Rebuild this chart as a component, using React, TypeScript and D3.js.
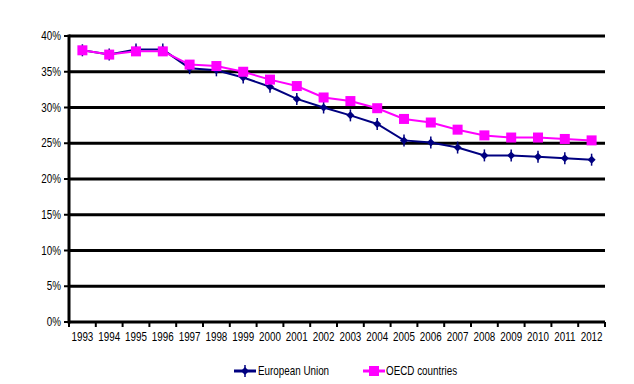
import React from "react";
import * as d3 from "d3";

const years = ["1993","1994","1995","1996","1997","1998","1999","2000","2001","2002","2003","2004","2005","2006","2007","2008","2009","2010","2011","2012"];
const euValues = [38.0, 37.4, 38.1, 38.1, 35.5, 35.2, 34.2, 32.9, 31.2, 30.0, 28.9, 27.7, 25.4, 25.1, 24.4, 23.3, 23.3, 23.1, 22.9, 22.7];
const oecdValues = [38.0, 37.4, 37.85, 37.85, 36.0, 35.8, 35.0, 33.9, 33.0, 31.4, 30.9, 29.9, 28.4, 27.9, 26.9, 26.1, 25.8, 25.8, 25.6, 25.4];
const yTicks = [0, 5, 10, 15, 20, 25, 30, 35, 40];

const FONT = "'Liberation Sans', Arial, sans-serif";

// narrow-looking text: regular sans squeezed horizontally
function NarrowText({ x, y, anchor = "start", children }: { x: number; y: number; anchor?: string; children: React.ReactNode }) {
  return (
    <text
      transform={`translate(${x},${y}) scale(0.82,1)`}
      textAnchor={anchor}
      fontFamily={FONT}
      fontSize={12}
      fill="#000"
    >
      {children}
    </text>
  );
}

export default function App() {
  const W = 634, H = 384;
  const left = 69, right = 605, top = 36, bottom = 322;

  const x = d3.scaleBand<string>().domain(years).range([left, right]);
  const y = d3.scaleLinear().domain([0, 40]).range([bottom, top]);
  const cx = (d: string) => (x(d) as number) + x.bandwidth() / 2;

  const line = d3.line<number>().x((_, i) => cx(years[i])).y(v => y(v));

  const navy = "#000080";
  const magenta = "#ff00ff";

  const diamond = (px: number, py: number, key: string) => (
    <g key={key}>
      <path d={`M${px},${py - 4}L${px + 4},${py}L${px},${py + 4}L${px - 4},${py}Z`} fill={navy} />
      <line x1={px} x2={px} y1={py - 6} y2={py + 6} stroke={navy} strokeWidth={1.5} />
    </g>
  );

  return (
    <svg width={W} height={H} style={{ position: "absolute", left: 0, top: 0, background: "#fff" }}>
      {/* gridlines */}
      {yTicks.map(t => (
        <g key={t}>
          <line x1={left} x2={right} y1={y(t)} y2={y(t)} stroke="#000" strokeWidth={3} />
          <NarrowText x={61} y={y(t) + 4} anchor="end">{t}%</NarrowText>
        </g>
      ))}
      {/* left axis */}
      <line x1={left} x2={left} y1={top - 1.5} y2={bottom + 1.5} stroke="#000" strokeWidth={3} />
      {yTicks.map(t => (
        <line key={"yt" + t} x1={left - 5} x2={left} y1={y(t)} y2={y(t)} stroke="#000" strokeWidth={2} />
      ))}
      {/* x ticks at category boundaries */}
      {years.map(yr => (
        <line key={"xt" + yr} x1={x(yr) as number} x2={x(yr) as number} y1={bottom} y2={bottom + 5} stroke="#000" strokeWidth={2} />
      ))}
      <line x1={right} x2={right} y1={bottom} y2={bottom + 5} stroke="#000" strokeWidth={2} />
      {years.map(yr => (
        <NarrowText key={"xl" + yr} x={cx(yr)} y={341} anchor="middle">{yr}</NarrowText>
      ))}

      {/* EU series */}
      <path d={line(euValues) as string} fill="none" stroke={navy} strokeWidth={2} />
      {euValues.map((v, i) => diamond(cx(years[i]), y(v), "eu" + i))}

      {/* OECD series */}
      <path d={line(oecdValues) as string} fill="none" stroke={magenta} strokeWidth={2} />
      {oecdValues.map((v, i) => (
        <rect key={"oe" + i} x={cx(years[i]) - 5} y={y(v) - 5} width={10} height={10} fill={magenta} />
      ))}

      {/* legend */}
      <g>
        <line x1={234} x2={256} y1={371} y2={371} stroke={navy} strokeWidth={3} />
        {diamond(245, 371, "legEu")}
        <NarrowText x={258} y={375}>European Union</NarrowText>
        <line x1={363} x2={385} y1={371} y2={371} stroke={magenta} strokeWidth={3} />
        <rect x={369} y={366} width={10} height={10} fill={magenta} />
        <NarrowText x={386} y={375}>OECD countries</NarrowText>
      </g>
    </svg>
  );
}
